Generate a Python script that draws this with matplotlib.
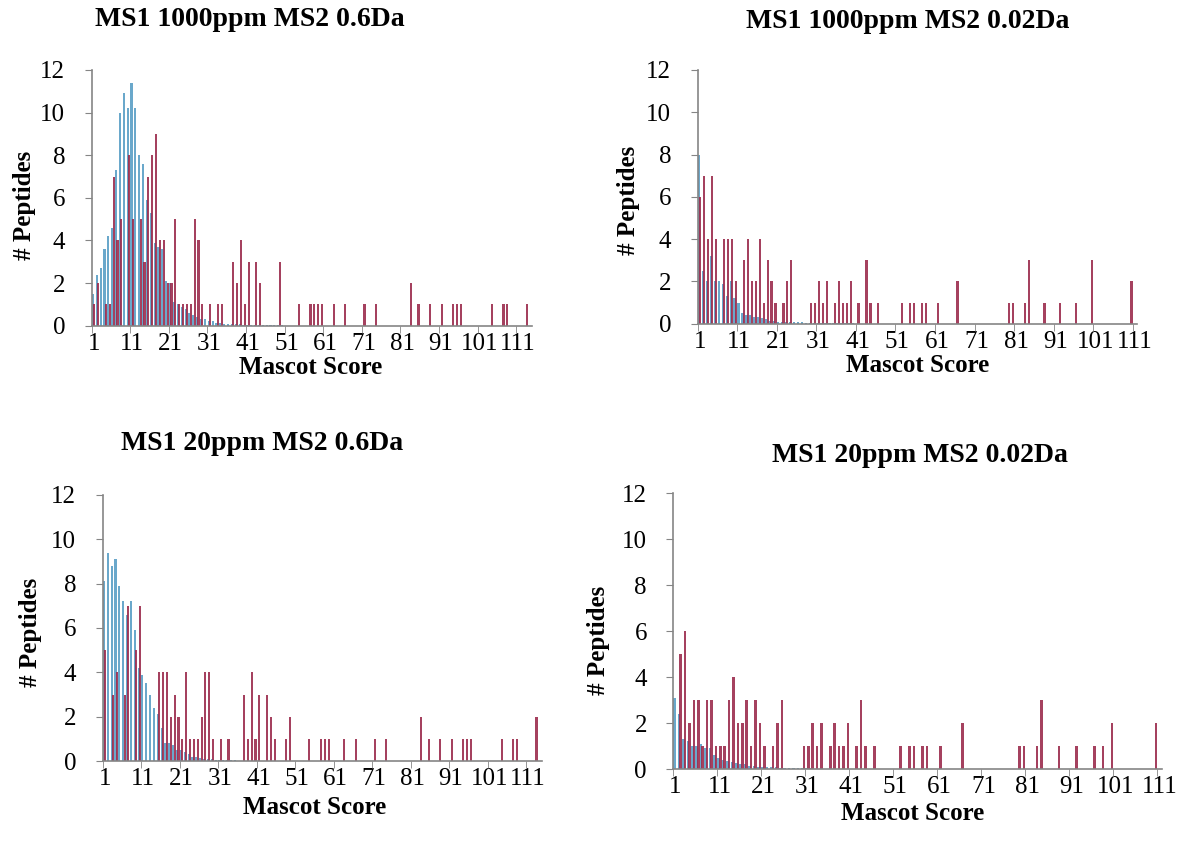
import numpy as np
import matplotlib
matplotlib.use("Agg")
import matplotlib.pyplot as plt

plt.rcParams['font.family'] = ['Liberation Serif', 'DejaVu Serif']

# ---- data ----
titles = ["MS1 1000ppm MS2 0.6Da", "MS1 1000ppm MS2 0.02Da",
          "MS1 20ppm MS2 0.6Da", "MS1 20ppm MS2 0.02Da"]
n_scores = [114, 111, 114, 111]
tick_scores = [1, 11, 21, 31, 41, 51, 61, 71, 81, 91, 101, 111]

# blue series: value per score starting at score 1 (rest are zero)
p1_blue = [1.5, 2.4, 2.7, 3.6, 4.2, 4.6, 7.3, 10.0, 10.9, 10.2, 11.4, 10.2, 8.0, 7.6, 5.9,
           5.3, 3.9, 3.7, 3.6, 2.1, 2.0, 1.1, 1.0, 0.9, 0.8, 0.6, 0.5, 0.4, 0.3, 0.3,
           0.2, 0.2, 0.15, 0.12, 0.1, 0.1, 0.08, 0.07, 0.06, 0.05, 0.04, 0.04, 0.03,
           0.03, 0.02, 0.02, 0.02, 0.01, 0.01, 0.01]
p2_blue = [8.0, 2.5, 2.0, 3.2, 2.0, 2.0, 1.9, 1.3, 2.0, 1.2, 1.0, 0.5, 0.4, 0.4, 0.3,
           0.3, 0.25, 0.2, 0.15, 0.12, 0.1, 0.1, 0.1, 0.08, 0.08, 0.06, 0.06, 0.05,
           0.05, 0.04, 0.04, 0.03, 0.03, 0.02, 0.02, 0.02, 0.01, 0.01, 0.01, 0.01]
p3_blue = [8.1, 9.4, 8.8, 9.1, 7.9, 7.2, 6.6, 7.2, 5.9, 4.2, 3.9, 3.5, 3.0, 2.4, 2.1,
           1.5, 0.8, 0.8, 0.7, 0.5, 0.5, 0.4, 0.3, 0.2, 0.2, 0.15, 0.1, 0.1, 0.08,
           0.06, 0.05, 0.05, 0.04, 0.03, 0.03, 0.02, 0.02, 0.01, 0.01, 0.01]
p4_blue = [3.1, 2.4, 1.3, 1.2, 1.0, 1.0, 1.1, 0.9, 0.9, 0.6, 0.5, 0.4, 0.35, 0.3, 0.25,
           0.2, 0.2, 0.15, 0.15, 0.1, 0.1, 0.1, 0.08, 0.08, 0.06, 0.06, 0.05, 0.05,
           0.04, 0.04, 0.03, 0.03, 0.02, 0.02, 0.01, 0.01]

# red series: scores that have peptides, and their counts
p1_red_s = [1, 2, 4, 5, 6, 7, 8, 10, 11, 13, 14, 15, 16, 17, 18, 19, 20, 21, 22, 23, 24,
            25, 26, 27, 28, 29, 31, 33, 34, 37, 38, 39, 40, 41, 43, 44, 49, 54, 57, 58,
            59, 60, 63, 66, 71, 74, 83, 85, 88, 91, 94, 95, 96, 104, 107, 108, 113]
p1_red_n = [1, 2, 1, 1, 7, 4, 5, 8, 5, 5, 3, 7, 8, 9, 4, 4, 2, 2, 5, 1, 1,
            1, 1, 5, 4, 1, 1, 1, 1, 3, 2, 4, 1, 3, 3, 2, 3, 1, 1, 1,
            1, 1, 1, 1, 1, 1, 2, 1, 1, 1, 1, 1, 1, 1, 1, 1, 1]

p2_red_s = [1, 2, 3, 4, 5, 7, 8, 9, 10, 12, 13, 14, 15, 16, 17, 18, 19, 20, 22, 23, 24,
            29, 30, 31, 32, 33, 35, 36, 37, 38, 39, 41, 43, 44, 46, 52, 54, 55, 57, 58,
            61, 66, 79, 80, 83, 84, 88, 92, 96, 100, 110]
p2_red_n = [6, 7, 4, 7, 4, 4, 4, 4, 2, 3, 4, 2, 2, 4, 1, 3, 2, 1, 1, 2, 3,
            1, 1, 2, 1, 2, 1, 2, 1, 1, 2, 1, 3, 1, 1, 1, 1, 1, 1, 1,
            1, 2, 1, 1, 1, 3, 1, 1, 1, 3, 2]

p3_red_s = [1, 3, 4, 6, 7, 9, 10, 15, 16, 17, 18, 19, 20, 21, 22, 23, 24, 25, 26, 27, 28,
            29, 31, 33, 37, 38, 39, 40, 41, 43, 44, 45, 48, 49, 54, 57, 58, 59, 63, 66,
            71, 74, 83, 85, 88, 91, 94, 95, 96, 104, 107, 108, 113]
p3_red_n = [5, 3, 4, 3, 7, 5, 7, 4, 4, 4, 2, 3, 2, 1, 4, 1, 1, 1, 2, 4, 4,
            1, 1, 1, 3, 1, 4, 1, 3, 3, 2, 1, 1, 2, 1, 1, 1, 1, 1, 1,
            1, 1, 2, 1, 1, 1, 1, 1, 1, 1, 1, 1, 2]

p4_red_s = [2, 3, 4, 5, 6, 7, 8, 9, 10, 11, 12, 13, 14, 15, 16, 17, 18, 19, 20, 21, 23,
            24, 25, 30, 31, 32, 33, 34, 36, 37, 38, 39, 40, 42, 43, 44, 46, 52, 54, 55,
            57, 58, 61, 66, 79, 80, 83, 84, 88, 92, 96, 98, 100, 110]
p4_red_n = [5, 6, 2, 3, 3, 1, 3, 3, 1, 1, 1, 3, 4, 2, 2, 3, 1, 3, 2, 1, 1,
            2, 3, 1, 1, 2, 1, 2, 1, 2, 1, 1, 2, 1, 3, 1, 1, 1, 1, 1,
            1, 1, 1, 2, 1, 1, 1, 3, 1, 1, 1, 1, 2, 2]

blues = [p1_blue, p2_blue, p3_blue, p4_blue]
reds = [(p1_red_s, p1_red_n), (p2_red_s, p2_red_n), (p3_red_s, p3_red_n), (p4_red_s, p4_red_n)]

# ---- layout in pixels (left, top, right, bottom) ----
W, H = 1177, 852
boxes = [(91.7, 70, 531.7, 325.7), (697.7, 70, 1136.7, 323.7),
         (102.7, 495, 541.6, 761), (673.3, 493.3, 1161.7, 769)]
title_xy = [(250, 20), (908, 21), (262, 443), (920, 455)]
ylab_xy = [(25, 205), (628, 200), (30, 632), (598, 640)]
xlab_xy = [(311, 367), (918, 366), (315, 808), (913, 814)]

blue_c = '#6AA8CB'
red_c = '#9B2C4E'
grey = '#858585'

fig = plt.figure(figsize=(W / 100, H / 100), dpi=100)

for i in range(4):
    l, t, r, b = boxes[i]
    ax = fig.add_axes([l / W, 1 - b / H, (r - l) / W, (b - t) / H])
    n = n_scores[i]

    bv = blues[i]
    bx = np.arange(1, len(bv) + 1)
    ax.bar(bx - 0.18, bv, width=0.55, color=blue_c, linewidth=0)
    rs, rn = reds[i]
    ax.bar(np.array(rs) + 0.18, rn, width=0.55, color=red_c, alpha=0.9, linewidth=0)

    ax.set_xlim(0.5, n + 0.5)
    ax.set_ylim(0, 12)
    ax.set_yticks(range(0, 13, 2))
    ax.set_xticks(tick_scores)
    ax.set_xticks([s - 0.5 for s in tick_scores], minor=True)
    ax.tick_params(axis='x', which='major', length=0, pad=5, labelsize=18)
    ax.tick_params(axis='x', which='minor', length=5, color=grey, direction='out')
    ax.tick_params(axis='y', length=5, color=grey, direction='out', pad=14, labelsize=18)

    for side in ['top', 'right']:
        ax.spines[side].set_visible(False)
    for side in ['left', 'bottom']:
        ax.spines[side].set_color(grey)
        ax.spines[side].set_linewidth(1.2)
    ax.patch.set_alpha(0)

    tx, ty = title_xy[i]
    fig.text(tx / W, 1 - ty / H, titles[i], ha='center', va='center',
             fontsize=20, fontweight='bold')
    yx, yy = ylab_xy[i]
    fig.text(yx / W, 1 - yy / H, "# Peptides", ha='center', va='center',
             rotation=90, fontsize=18, fontweight='bold')
    xx, xy = xlab_xy[i]
    fig.text(xx / W, 1 - xy / H, "Mascot Score", ha='center', va='center',
             fontsize=18, fontweight='bold')

fig.savefig("out.png", dpi=100)
